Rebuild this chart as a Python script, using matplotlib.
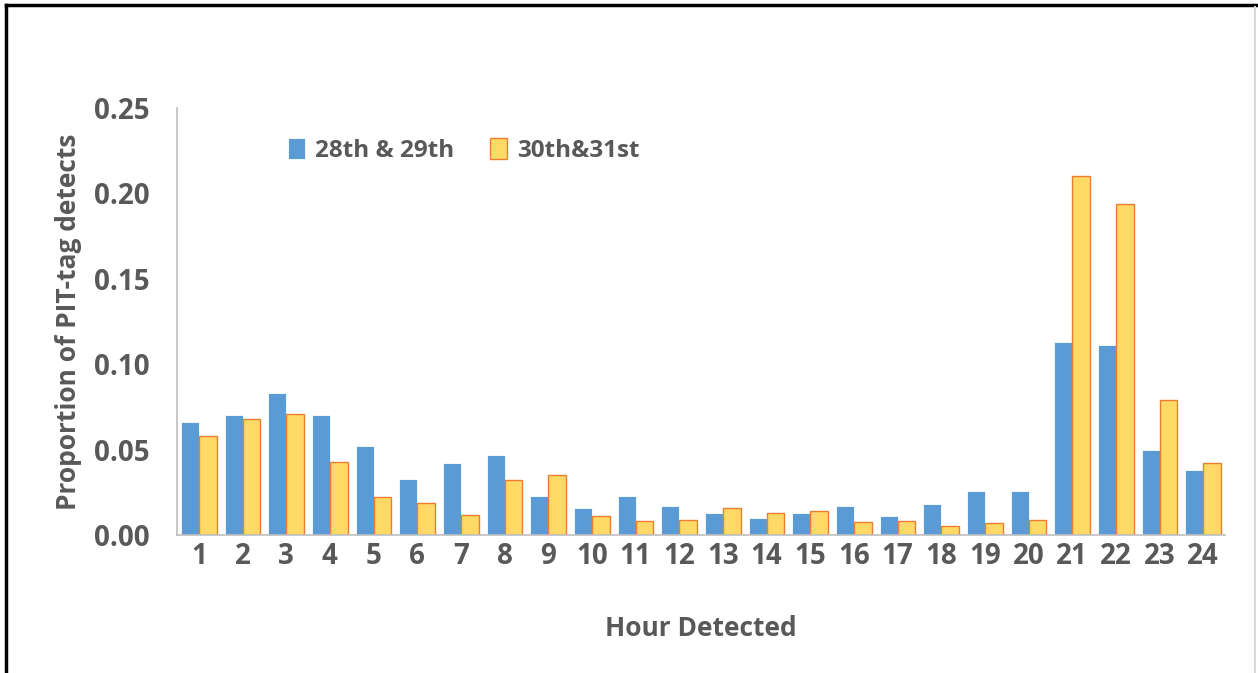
import matplotlib.pyplot as plt
import numpy as np
from matplotlib.lines import Line2D

# --- Données ---
hours = [str(h) for h in range(1, 25)]
days_28_29 = [0.066, 0.070, 0.083, 0.070, 0.052, 0.033, 0.042, 0.047, 0.023, 0.016,
              0.023, 0.017, 0.013, 0.010, 0.013, 0.017, 0.011, 0.018, 0.026, 0.026,
              0.113, 0.111, 0.050, 0.038]
days_30_31 = [0.058, 0.068, 0.071, 0.043, 0.022, 0.019, 0.012, 0.032, 0.035, 0.011,
              0.008, 0.009, 0.016, 0.013, 0.014, 0.0075, 0.008, 0.005, 0.007, 0.009,
              0.210, 0.194, 0.079, 0.042]

text_col = '#595959'
plt.rcParams['font.family'] = ['Open Sans', 'DejaVu Sans']
plt.rcParams['font.weight'] = 'bold'

fig = plt.figure(figsize=(12.58, 6.73), dpi=100)
ax = fig.add_axes([0.1407, 0.205, 0.8331, 0.6345])

x = np.arange(len(hours))
w = 0.41
ax.bar(x - w / 2, days_28_29, width=w, color='#5B9BD5', edgecolor='white',
       linewidth=0.6, label='28th & 29th')
ax.bar(x + w / 2, days_30_31, width=w, color='#FFD966', edgecolor='#ED7D31',
       linewidth=1.0, label='30th&31st')

ax.set_xlim(-0.5, len(hours) - 0.5)
ax.set_ylim(0, 0.25)
ax.set_yticks(np.arange(0, 0.2501, 0.05))
ax.set_yticklabels([f"{v:.2f}" for v in np.arange(0, 0.2501, 0.05)])
ax.set_xticks(x)
ax.set_xticklabels(hours)
ax.tick_params(axis='both', length=0, labelsize=20, colors=text_col)
ax.tick_params(axis='y', pad=20)
ax.tick_params(axis='x', pad=5)
for lab in ax.get_xticklabels() + ax.get_yticklabels():
    lab.set_fontweight('bold')

for s in ['top', 'right']:
    ax.spines[s].set_visible(False)
for s in ['left', 'bottom']:
    ax.spines[s].set_color('#BFBFBF')
    ax.spines[s].set_linewidth(1.2)

ax.set_xlabel('Hour Detected', fontsize=19, color=text_col, fontweight='bold', labelpad=32)
ax.set_ylabel('Proportion of PIT-tag detects', fontsize=19, color=text_col,
              fontweight='bold', labelpad=8)

leg = ax.legend(loc='upper left', bbox_to_anchor=(0.085, 0.98), ncol=2, frameon=False,
                fontsize=17.5, handlelength=0.7, handleheight=0.9, handletextpad=0.4,
                columnspacing=1.5)
for t in leg.get_texts():
    t.set_color(text_col)
    t.set_fontweight('bold')

# Cadre de la capture : noir à gauche et en haut, gris à droite
fig.add_artist(Line2D([0.005, 0.005], [0, 0.992], color='black', lw=2.5, transform=fig.transFigure))
fig.add_artist(Line2D([0.005, 1.0], [0.992, 0.992], color='black', lw=2.5, transform=fig.transFigure))
fig.add_artist(Line2D([0.998, 0.998], [0, 0.99], color='#D9D9D9', lw=1.5, transform=fig.transFigure))

fig.savefig('out.png', dpi=100)
